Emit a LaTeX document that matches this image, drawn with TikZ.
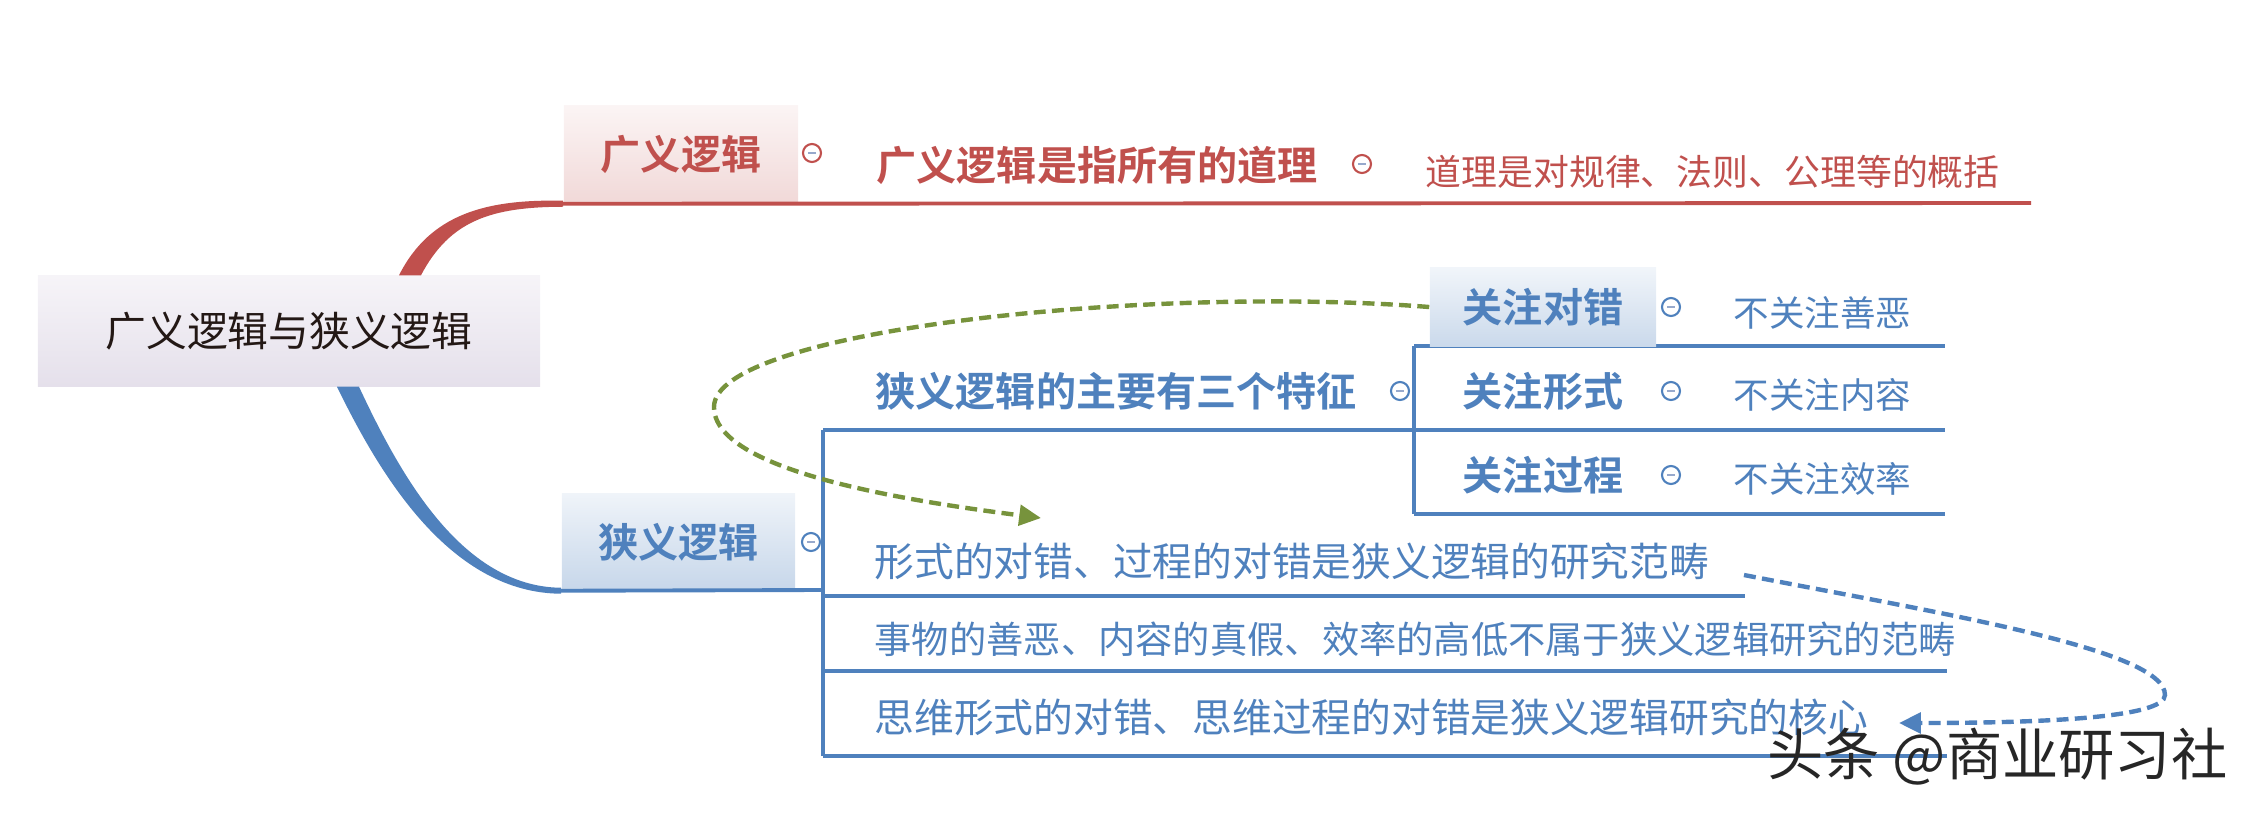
\documentclass[tikz,border=0pt]{standalone}
\usepackage{fontspec}
\setmainfont{Noto Sans CJK SC}[BoldFont={Noto Sans CJK SC Bold}]
\usepackage{xcolor}
\usepackage{tikz}
\usetikzlibrary{arrows.meta,calc}
\definecolor{redtxt}{HTML}{C0504D}
\definecolor{bluetxt}{HTML}{4F81BD}
\definecolor{greenarr}{HTML}{77933C}
\definecolor{foldmark}{HTML}{97A9CC}
\definecolor{roottxt}{HTML}{231815}
\definecolor{roottop}{HTML}{F6F4F8}
\definecolor{rootbot}{HTML}{E5E0EB}

\begin{document}
\begin{tikzpicture}[x=0.01cm,y=-0.01cm,
  box/.style={inner sep=0pt,align=center},
  topic/.style={font=\bfseries\fontsize{11.4}{13}\selectfont,inner sep=0pt},
  leaf/.style={font=\fontsize{#1}{13}\selectfont,text=bluetxt,anchor=west,inner sep=0pt},
  leaf/.default=11.3,
  tag/.style={font=\fontsize{10.1}{12}\selectfont,text=bluetxt,anchor=west,inner sep=0pt},
  fold/.style={circle,draw=#1,fill=white,line width=0.6pt,minimum size=0.18cm,inner sep=0pt,
    path picture={\draw[foldmark,line width=0.7pt] ([xshift=-1.1pt]path picture bounding box.center) -- ([xshift=1.1pt]path picture bounding box.center);}},
  rule/.style={line width=1.1pt},
  link/.style={line width=1.25pt,dash pattern=on 3.4pt off 1.8pt,-{Triangle[length=6.2pt,width=5.8pt]}}]
\useasboundingbox (0,0) rectangle (2262,814);

\node[box,minimum width=5.02cm,minimum height=1.1cm,top color=roottop,bottom color=rootbot,text=roottxt,font=\fontsize{11.6}{14}\selectfont] (root) at (289,331) {广义逻辑与狭义逻辑};
\node[box,topic,minimum width=2.34cm,minimum height=0.97cm,top color=redtxt!6,bottom color=redtxt!22,text=redtxt] (wide) at (681,154.5) {广义逻辑};
\node[box,topic,minimum width=2.33cm,minimum height=0.96cm,top color=bluetxt!9,bottom color=bluetxt!32,text=bluetxt] (narrow) at (678.5,542) {狭义逻辑};

\fill[redtxt] ($(root.north)+(110,0)$) .. controls (430,214) and (486,199) .. ($(wide.south west)+(0,-3)$)
  -- ($(wide.south west)+(0,3)$) .. controls (492,207) and (450,220) .. ($(root.north)+(132,0)$) -- cycle;
\fill[bluetxt] ($(root.south)+(48,0)$) .. controls (380,475) and (450,593) .. ($(narrow.south west)+(0,3)$)
  -- ($(narrow.south west)+(0,-3)$) .. controls (460,587) and (398,470) .. ($(root.south)+(70,0)$) -- cycle;

\coordinate (wend) at (2031,203);
\draw[rule,redtxt] (wide.south west) -- (wend);
\node[topic,text=redtxt,anchor=west] (wdef) at (876,165) {广义逻辑是指所有的道理};
\node[font=\fontsize{10.2}{12}\selectfont,text=redtxt,anchor=west,inner sep=0pt] (wnote) at (1425,172) {道理是对规律、法则、公理等的概括};

\coordinate (n0) at (823,590);
\draw[rule,bluetxt] (narrow.south west) -- (n0);
\foreach \n/\y/\e in {a/430/1945,b/596/1745,c/671/1947,d/756/1947} {
  \coordinate (m\n) at (823,\y);
  \coordinate (e\n) at (\e,\y);
  \draw[rule,bluetxt] (m\n) -- (e\n);
}
\draw[rule,bluetxt] (ma) -- (md);
\foreach \n/\y in {p/346,q/430,r/514} {
  \coordinate (k\n) at (1414,\y);
  \coordinate (f\n) at (1945,\y);
  \draw[rule,bluetxt] (k\n) -- (f\n);
}
\draw[rule,bluetxt] (kp) -- (kr);

\node[topic,text=bluetxt,anchor=west] (feat) at (875,391) {狭义逻辑的主要有三个特征};
\node[leaf] (form) at (874,561) {形式的对错、过程的对错是狭义逻辑的研究范畴};
\node[leaf=10.6] (thing) at (874,639) {事物的善恶、内容的真假、效率的高低不属于狭义逻辑研究的范畴};
\node[leaf] (core) at (874,717) {思维形式的对错、思维过程的对错是狭义逻辑研究的核心};

\node[box,topic,minimum width=2.26cm,minimum height=0.78cm,top color=bluetxt!8,bottom color=bluetxt!30,text=bluetxt] (cwrong) at (1543,307) {关注对错};
\node[topic,text=bluetxt] (cform) at (1543,391) {关注形式};
\node[topic,text=bluetxt] (cproc) at (1543,475) {关注过程};
\foreach \t/\y [count=\i] in {不关注善恶/313,不关注内容/395,不关注效率/479}
  \node[tag] (tag\i) at (1733,\y) {\t};

\foreach \x/\y/\c [count=\i] in {812/153/redtxt,1362/164/redtxt,811/542/bluetxt,1400/391/bluetxt,1671/307/bluetxt,1671/391/bluetxt,1671/475/bluetxt}
  \node[fold=\c] (fold\i) at (\x,\y) {};

\coordinate (garr) at (1041,518);
\draw[link,greenarr]
  (cwrong.west) .. controls (1150,285) and (714,330) .. (714,407) .. controls (714,470) and (900,500) .. (garr);
\coordinate (bstart) at (1744,575);
\coordinate (barr) at (1899,723);
\draw[link,bluetxt]
  (bstart) .. controls (1950,615) and (2165,650) .. (2165,695) .. controls (2165,718) and (2040,723) .. (barr);

\node[font=\fontsize{16}{18}\selectfont,text=black!85,anchor=west,inner sep=0pt] (mark) at (1767,757) {头条 @商业研习社};
\end{tikzpicture}
\end{document}
